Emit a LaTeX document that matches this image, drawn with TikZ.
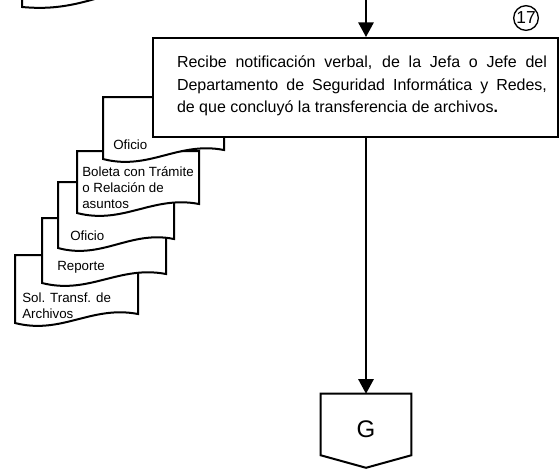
\documentclass[tikz,border=0pt]{standalone}
\usepackage{fontspec}
\setmainfont{Liberation Sans}
\usetikzlibrary{arrows.meta,calc}

% Document sheet with a wavy lower edge: left, top, right, lower-left y
\newcommand{\docsheet}[4]{%
  \draw[outline, fill=white] (#1,#2) -- (#3,#2) -- (#3,{#4-9})
    .. controls ({#1+0.62*(#3-#1)},{#4-18}) and ({#1+0.38*(#3-#1)},{#4+12}) .. (#1,#4) -- cycle;}

\begin{document}
\begin{tikzpicture}[x=0.75pt,y=-0.75pt,
  outline/.style={line width=1.5pt, line join=miter},
  flow/.style={line width=1.5pt, -{Triangle[length=11pt,width=11.5pt]}},
  doctext/.style={font=\fontsize{10}{12}\selectfont, inner sep=0pt, align=left, anchor=west},
  actbox/.style={draw, outline, fill=white, minimum width=303.75pt, minimum height=74.25pt, inner sep=0pt},
  acttext/.style={font=\fontsize{12}{17}\selectfont, text width=277.5pt, align=justify, inner sep=0pt},
  stepno/.style={circle, draw, line width=1pt, minimum size=18.5pt, inner sep=0pt, font=\fontsize{13}{13}\selectfont},
  ]
\useasboundingbox (0,0) rectangle (559,469);
\clip (0,0) rectangle (559,469);

% lower edge of the preceding document
\draw[outline] (22,-10) -- (22,7) .. controls (45,9) and (65,8) .. (98,-2);

% stack of documents, back to front
\docsheet{15}{255}{138}{323}
\node[doctext] (d5) at (22,306) {Sol. Transf. de\\Archivos};
\docsheet{42}{218}{166}{283}
\node[doctext] (d4) at (57,267) {Reporte};
\docsheet{58}{182}{174}{248}
\node[doctext] (d3) at (70,236) {Oficio};
\docsheet{77}{151}{199}{213}
\node[doctext] (d2) at (82,188) {Boleta con Trámite\\o Relación de\\asuntos};
\docsheet{103}{97}{224}{159}
\node[doctext] (d1) at (113,145) {Oficio};

% activity 17
\node[actbox] (act) at (355.5,87.5) {};
\node[acttext] (actlabel) at (362,86) {\hyphenpenalty=10000 Recibe notificación verbal, de la Jefa o Jefe del\linebreak
  Departamento de Seguridad Informática y Redes,\linebreak
  de que concluyó la transferencia de archivos\textbf{.}};
\node[stepno] (n17) at (526,18) {17};

% off-page connector G
\node[minimum width=67.5pt, minimum height=45.75pt, inner sep=0pt] (g) at (366,424.5) {};
\draw[outline] (g.north west) -- (g.north east) -- (g.south east)
  -- ($(g.south)+(0,12.5)$) -- (g.south west) -- cycle;
\node[font=\fontsize{18}{18}\selectfont, inner sep=0pt] (glabel) at (366,429) {G};

% flow lines
\coordinate (src) at (366,-2);
\draw[flow] (src) -- (src |- act.north);
\draw[flow] (g.north |- act.south) -- (g.north);
\end{tikzpicture}
\end{document}
